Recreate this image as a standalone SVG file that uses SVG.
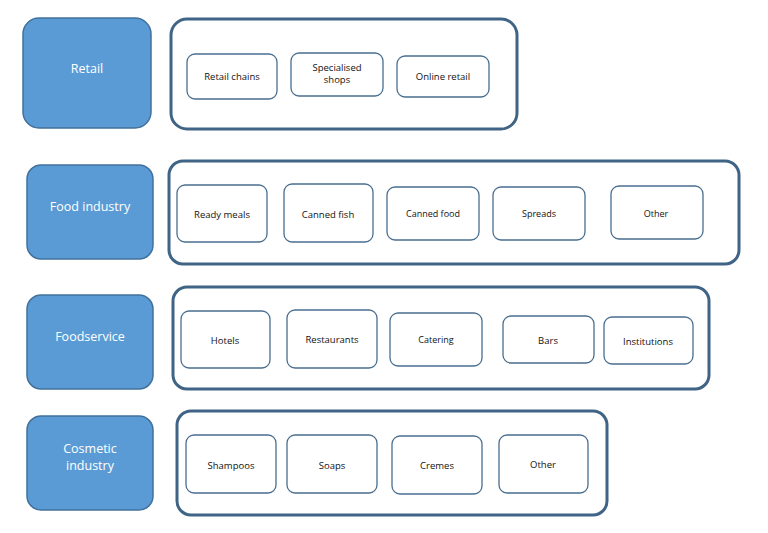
<svg xmlns="http://www.w3.org/2000/svg" width="768" height="533" viewBox="0 0 768 533">
<style>
.cat{fill:#5B9BD5;stroke:#41719C;stroke-width:1.5}
.grp{fill:#fff;stroke:#3F6485;stroke-width:3}
.item{fill:#fff;stroke:#4A6F90;stroke-width:1.3}
.ct{font-family:"Open Sans","Liberation Sans",sans-serif;font-size:12.5px;fill:#fff;text-anchor:middle}
.it{font-family:"Open Sans","Liberation Sans",sans-serif;font-size:9.5px;fill:#111;text-anchor:middle}
</style>
<rect width="768" height="533" fill="#fff"/>
<g id="connectors"/>
<!-- Retail -->
<g id="retail"><rect class="cat" x="23" y="18" width="128" height="110" rx="16"/><text class="ct" x="87" y="73">Retail</text></g>
<g id="retail-group"><rect class="grp" x="171" y="19" width="346" height="110" rx="16"/></g>
<g id="retail-chains"><rect class="item" x="187" y="54" width="90" height="45" rx="8"/><text class="it" x="232" y="80">Retail chains</text></g>
<g id="specialised-shops"><rect class="item" x="291" y="53" width="92" height="43" rx="8"/><text class="it" x="337" y="71">Specialised</text><text class="it" x="337" y="83">shops</text></g>
<g id="online-retail"><rect class="item" x="397" y="56" width="92" height="41" rx="8"/><text class="it" x="443" y="80">Online retail</text></g>
<!-- Food industry -->
<g id="food-industry"><rect class="cat" x="27" y="165" width="126" height="94" rx="14"/><text class="ct" x="90" y="211">Food industry</text></g>
<g id="food-group"><rect class="grp" x="169" y="161" width="570" height="103" rx="14"/></g>
<g id="ready-meals"><rect class="item" x="177" y="185" width="90" height="57" rx="8"/><text class="it" x="222" y="218">Ready meals</text></g>
<g id="canned-fish"><rect class="item" x="284" y="184" width="89" height="58" rx="8"/><text class="it" x="328" y="218">Canned fish</text></g>
<g id="canned-food"><rect class="item" x="387" y="187" width="92" height="53" rx="8"/><text class="it" x="433" y="217" style="font-size:9px">Canned food</text></g>
<g id="spreads"><rect class="item" x="493" y="187" width="92" height="53" rx="8"/><text class="it" x="539" y="217" style="font-size:9px">Spreads</text></g>
<g id="food-other"><rect class="item" x="611" y="186" width="92" height="53" rx="8"/><text class="it" x="656" y="217" style="font-size:9px">Other</text></g>
<!-- Foodservice -->
<g id="foodservice"><rect class="cat" x="27" y="295" width="126" height="94" rx="14"/><text class="ct" x="90" y="341">Foodservice</text></g>
<g id="foodservice-group"><rect class="grp" x="173" y="287" width="536" height="102" rx="14"/></g>
<g id="hotels"><rect class="item" x="181" y="311" width="89" height="57" rx="8"/><text class="it" x="225" y="344">Hotels</text></g>
<g id="restaurants"><rect class="item" x="287" y="310" width="90" height="58" rx="8"/><text class="it" x="332" y="343">Restaurants</text></g>
<g id="catering"><rect class="item" x="390" y="313" width="92" height="53" rx="8"/><text class="it" x="436" y="343" style="font-size:9px">Catering</text></g>
<g id="bars"><rect class="item" x="503" y="316" width="91" height="47" rx="8"/><text class="it" x="548" y="344">Bars</text></g>
<g id="institutions"><rect class="item" x="604" y="317" width="89" height="47" rx="8"/><text class="it" x="648" y="345">Institutions</text></g>
<!-- Cosmetic industry -->
<g id="cosmetic-industry"><rect class="cat" x="27" y="416" width="126" height="94" rx="14"/><text class="ct" x="90" y="453">Cosmetic</text><text class="ct" x="90" y="470">industry</text></g>
<g id="cosmetic-group"><rect class="grp" x="177" y="411" width="430" height="104" rx="14"/></g>
<g id="shampoos"><rect class="item" x="186" y="435" width="90" height="58" rx="8"/><text class="it" x="231" y="469">Shampoos</text></g>
<g id="soaps"><rect class="item" x="287" y="435" width="90" height="58" rx="8"/><text class="it" x="332" y="469">Soaps</text></g>
<g id="cremes"><rect class="item" x="392" y="436" width="90" height="58" rx="8"/><text class="it" x="437" y="469">Cremes</text></g>
<g id="cosmetic-other"><rect class="item" x="499" y="435" width="89" height="58" rx="8"/><text class="it" x="543" y="468">Other</text></g>
</svg>
